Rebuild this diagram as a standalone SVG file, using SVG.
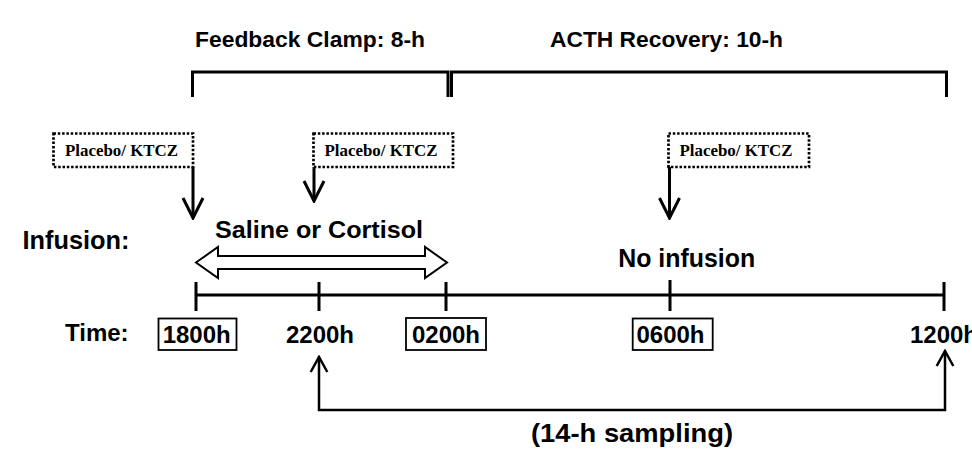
<svg xmlns="http://www.w3.org/2000/svg" width="972" height="449" viewBox="0 0 972 449">
<style>
.t{font-family:"Liberation Sans",Arial,sans-serif;font-weight:bold;fill:#000}
.big{font-size:24px}
.ttl{font-size:22px}
.pl{font-family:"Liberation Serif","Times New Roman",serif;font-weight:bold;font-size:17px;fill:#000}
.dot{fill:#fff;stroke:#000;stroke-width:2.7;stroke-dasharray:2.5 1.8}
.box{fill:#fff;stroke:#000;stroke-width:1.8}
.ln{fill:none;stroke:#000;stroke-width:3}
.thin{fill:none;stroke:#000;stroke-width:2.5}
</style>
<defs>
<marker id="chev" viewBox="-22 -12 24 24" markerWidth="24" markerHeight="24" refX="0" refY="0" markerUnits="userSpaceOnUse" orient="auto">
<path d="M-20,-10 L0,0 L-20,10" fill="none" stroke="#000" stroke-width="3"/>
</marker>
<marker id="chevs" viewBox="-18 -10 20 20" markerWidth="20" markerHeight="20" refX="0" refY="0" markerUnits="userSpaceOnUse" orient="auto-start-reverse">
<path d="M-15,-8.3 L0,0 L-15,8.3" fill="none" stroke="#000" stroke-width="2.5"/>
</marker>
</defs>
<rect width="972" height="449" fill="#fff"/>

<g id="title-feedback">
<text class="t ttl" x="195" y="47" textLength="230" lengthAdjust="spacingAndGlyphs">Feedback Clamp: 8-h</text>
<path class="ln" d="M192.5,97 V72 H448 V97"/>
</g>
<g id="title-acth">
<text class="t ttl" x="550" y="47" textLength="233" lengthAdjust="spacingAndGlyphs">ACTH Recovery: 10-h</text>
<path class="ln" d="M451.5,97 V72 H946.5 V97"/>
</g>

<g id="dose1">
<rect class="dot" x="53.5" y="133.5" width="139.5" height="33.5"/>
<text class="pl" x="121.5" y="155.5" text-anchor="middle" textLength="113" lengthAdjust="spacingAndGlyphs">Placebo/ KTCZ</text>
</g>
<g id="dose2">
<rect class="dot" x="313.5" y="133.5" width="139.5" height="33.5"/>
<text class="pl" x="381" y="155.5" text-anchor="middle" textLength="113" lengthAdjust="spacingAndGlyphs">Placebo/ KTCZ</text>
</g>
<g id="dose3">
<rect class="dot" x="668.5" y="133.5" width="140.5" height="33.5"/>
<text class="pl" x="736" y="155.5" text-anchor="middle" textLength="113" lengthAdjust="spacingAndGlyphs">Placebo/ KTCZ</text>
</g>

<g id="infusion-label">
<text class="t" x="22.5" y="249" font-size="25" textLength="107" lengthAdjust="spacingAndGlyphs">Infusion:</text>
</g>
<g id="saline">
<text class="t big" x="215" y="238" textLength="208" lengthAdjust="spacingAndGlyphs">Saline or Cortisol</text>
<polygon points="196,262.5 218,247 218,256 425,256 425,247 447,262.5 425,278 425,269 218,269 218,278" fill="#fff" stroke="#000" stroke-width="2" stroke-linejoin="miter"/>
</g>
<g id="no-infusion">
<text class="t" x="686.7" y="266.5" font-size="25" text-anchor="middle" textLength="137" lengthAdjust="spacingAndGlyphs">No infusion</text>
</g>

<g id="timeline">
<path class="ln" d="M196,295 H944 M196,282 V311 M319,282 V311 M446,282 V311 M670,280 V311 M944,282 V311"/>
</g>
<g id="time-label">
<text class="t big" x="65" y="341">Time:</text>
</g>
<g id="t1800">
<rect class="box" x="158.5" y="318.5" width="78" height="31.5"/>
<text class="t big" x="196.7" y="343" text-anchor="middle">1800h</text>
</g>
<g id="t2200">
<text class="t big" x="320" y="343" text-anchor="middle">2200h</text>
</g>
<g id="t0200">
<rect class="box" x="406" y="318" width="80" height="32"/>
<text class="t big" x="446" y="343" text-anchor="middle">0200h</text>
</g>
<g id="t0600">
<rect class="box" x="632.7" y="318.5" width="80" height="31.5"/>
<text class="t big" x="670.5" y="343" text-anchor="middle">0600h</text>
</g>
<g id="t1200">
<text class="t big" x="944" y="343" text-anchor="middle">1200h</text>
</g>
<g id="sampling-label">
<text class="t" x="531" y="441.5" font-size="25" textLength="202" lengthAdjust="spacingAndGlyphs">(14-h sampling)</text>
</g>

<g id="connectors">
<line class="ln" x1="193" y1="167" x2="193" y2="218" marker-end="url(#chev)"/>
<line class="ln" x1="314" y1="167" x2="314" y2="201" marker-end="url(#chev)"/>
<line class="ln" x1="669.5" y1="167" x2="669.5" y2="218" marker-end="url(#chev)"/>
<path class="thin" d="M319,357 V410 H945 V351" marker-start="url(#chevs)" marker-end="url(#chevs)"/>
</g>
</svg>
